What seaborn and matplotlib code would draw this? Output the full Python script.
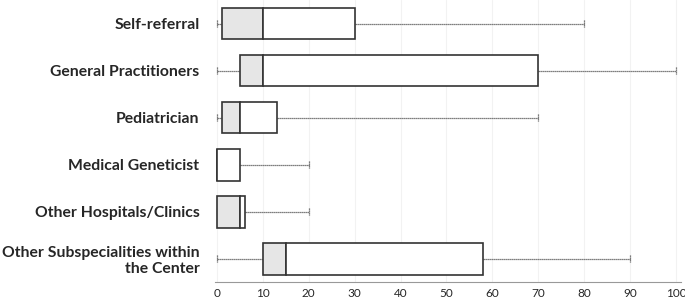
import matplotlib
matplotlib.use("Agg")
import matplotlib.pyplot as plt
import pandas as pd
import numpy as np
import seaborn as sns

# referral sources and box statistics (percent)
CATEGORIES = ["Self-referral", "General Practitioners", "Pediatrician",
              "Medical Geneticist", "Other Hospitals/Clinics",
              "Other Subspecialities within\nthe Center"]
MINS = [0, 0, 0, 0, 0, 0]
Q1 = [1, 5, 1, 0, 0, 10]
MEDIANS = [10, 10, 5, 0, 5, 15]
Q3 = [30, 70, 13, 5, 6, 58]
MAXS = [80, 100, 70, 20, 20, 90]


def main():
    sns.set_style("white")
    plt.rcParams["font.family"] = ["Lato", "DejaVu Sans"]

    df = pd.DataFrame({"cat": CATEGORIES, "min": MINS, "q1": Q1,
                       "med": MEDIANS, "q3": Q3, "max": MAXS})
    df["lower"] = df["med"] - df["q1"]
    df["upper"] = df["q3"] - df["med"]

    fig, ax = plt.subplots(figsize=(6.85, 3.01), dpi=100)
    fig.subplots_adjust(left=0.3134, right=0.9935, top=1.0, bottom=0.063)

    ax.xaxis.grid(True, color="#f2f2f2", lw=0.8)
    ax.set_axisbelow(True)

    # whiskers
    y = np.arange(len(df))
    wk = dict(color="#555555", lw=0.9, ls=(0, (1, 0.6)), zorder=2)
    ax.hlines(y, df["min"], df["q1"], **wk)
    ax.hlines(y, df["q3"], df["max"], **wk)
    ax.vlines(df["min"], y - 0.07, y + 0.07, **wk)
    ax.vlines(df["max"], y - 0.07, y + 0.07, **wk)

    # box halves: grey from q1 to median, white from median to q3
    sns.barplot(data=df, x="lower", y="cat", left=df["q1"].values, color="#e6e6e6",
                saturation=1, edgecolor="#333333", linewidth=1.2, width=0.68, ax=ax, zorder=3)
    sns.barplot(data=df, x="upper", y="cat", left=df["med"].values, color="white",
                saturation=1, edgecolor="#333333", linewidth=1.2, width=0.68, ax=ax, zorder=3)

    ax.set_xlim(-0.5, 101)
    ax.set_ylim(5.5, -0.5)
    ax.set_xticks(range(0, 101, 10))
    ax.set_xlabel("")
    ax.set_ylabel("")
    ax.tick_params(axis="x", labelsize=8.5, length=4, color="#888888", direction="inout", pad=2)
    ax.tick_params(axis="y", length=0, pad=11)
    for lab in ax.get_yticklabels():
        lab.set_fontweight("bold")
        lab.set_fontsize(11.3)
        lab.set_horizontalalignment("right")
    for s in ["left", "right", "top"]:
        ax.spines[s].set_visible(False)
    ax.spines["bottom"].set_color("#999999")

    plt.savefig("out.png", dpi=100)


if __name__ == "__main__":
    main()
